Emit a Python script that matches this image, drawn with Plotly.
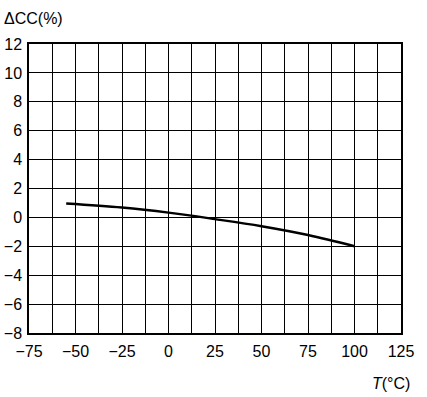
import plotly.graph_objects as go

temp_c = [-55, -25, 0, 25, 50, 75, 100]
delta_cc = [0.96, 0.68, 0.33, -0.12, -0.61, -1.22, -2.0]
x_ticks = [-75, -50, -25, 0, 25, 50, 75, 100, 125]
x_tick_text = ["\u221275", "\u221250", "\u221225", "0", "25", "50", "75", "100", "125"]
y_ticks = [-8, -6, -4, -2, 0, 2, 4, 6, 8, 10, 12]
y_tick_text = ["\u22128", "\u22126", "\u22124", "\u22122", "0", "2", "4", "6", "8", "10", "12"]

fig = go.Figure()
fig.add_trace(go.Scatter(x=temp_c, y=delta_cc, mode="lines", line=dict(color="black", width=2.5, shape="spline"),
                         showlegend=False, hoverinfo="skip"))

font = dict(family="Liberation Sans, Arial, sans-serif", size=16, color="black")
fig.update_layout(
    width=427, height=397,
    margin=dict(l=29, r=26, t=44, b=64, autoexpand=False),
    paper_bgcolor="white", plot_bgcolor="white",
    font=font,
    xaxis=dict(range=[-75, 125], tickvals=x_ticks, ticktext=x_tick_text, automargin=False,
               showgrid=True, gridcolor="black", gridwidth=1,
               minor=dict(dtick=12.5, tick0=-75, showgrid=True, gridcolor="black", gridwidth=1),
               showline=True, linecolor="black", linewidth=1.5, mirror=True,
               ticks="", zeroline=False, ticklabelstandoff=3),
    yaxis=dict(range=[-8, 12], tickvals=y_ticks, ticktext=y_tick_text, automargin=False,
               showgrid=True, gridcolor="black", gridwidth=1,
               showline=True, linecolor="black", linewidth=1.5, mirror=True,
               ticks="", zeroline=False, ticklabelstandoff=2),
    annotations=[
        dict(text="\u0394CC(%)", xref="paper", yref="paper", x=-27/372, y=1 + 25.5/289,
             xanchor="left", yanchor="middle", showarrow=False, font=font),
        dict(text="<i>T</i>(\u00b0C)", xref="paper", yref="paper", x=1 + 11/372, y=-50/289,
             xanchor="right", yanchor="middle", showarrow=False, font=font),
    ],
)

fig.write_html("out.html", config={"displayModeBar": False},
               post_script="document.body.style.margin='0';document.body.style.padding='0';")
